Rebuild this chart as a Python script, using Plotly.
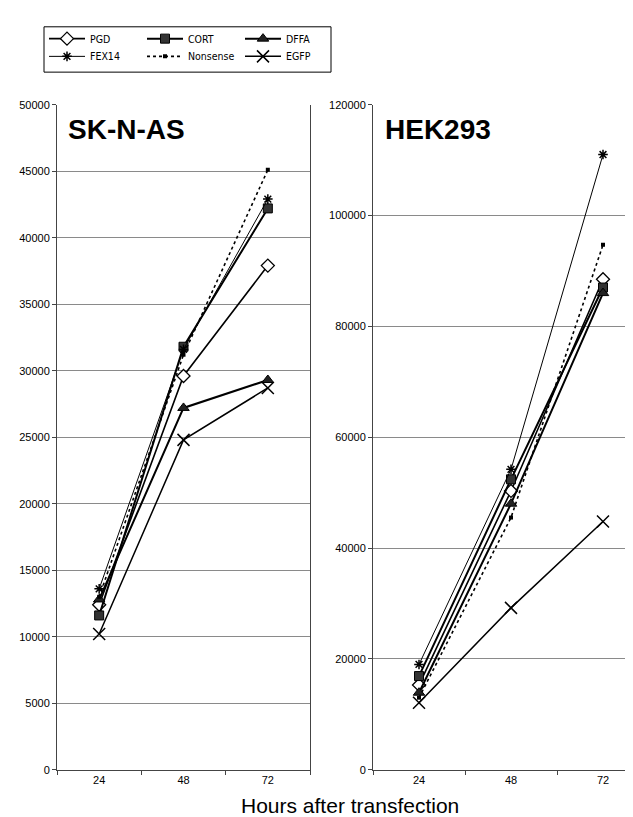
import plotly.graph_objects as go

hours = ["24", "48", "72"]
series = ["PGD", "CORT", "DFFA", "FEX14", "Nonsense", "EGFP"]

skn_pgd = [12400, 29600, 37900]
skn_cort = [11600, 31800, 42200]
skn_dffa = [12800, 27200, 29300]
skn_fex14 = [13600, 31600, 42900]
skn_nonsense = [13000, 31200, 45100]
skn_egfp = [10200, 24800, 28700]

hek_pgd = [15300, 50300, 88500]
hek_cort = [16900, 52400, 87000]
hek_dffa = [13900, 48000, 86000]
hek_fex14 = [19000, 54200, 111000]
hek_nonsense = [13000, 45500, 94700]
hek_egfp = [12100, 29200, 44800]

skn_ticks = list(range(0, 50001, 5000))
hek_ticks = list(range(0, 120001, 20000))

styles = {
    "PGD": dict(line=dict(color="black", width=1.6),
                marker=dict(symbol="diamond", size=10, color="white",
                            line=dict(color="black", width=1.3))),
    "CORT": dict(line=dict(color="black", width=2),
                 marker=dict(symbol="square", size=9, color="#333333",
                             line=dict(color="black", width=1))),
    "DFFA": dict(line=dict(color="black", width=2),
                 marker=dict(symbol="triangle-up", size=10, color="#222222",
                             line=dict(color="black", width=1))),
    "FEX14": dict(line=dict(color="black", width=1),
                  marker=dict(symbol="asterisk-open", size=8,
                              line=dict(color="black", width=1.5))),
    "Nonsense": dict(line=dict(color="black", width=1.6, dash="dot"),
                     marker=dict(symbol="square", size=4, color="black")),
    "EGFP": dict(line=dict(color="black", width=1.5),
                 marker=dict(symbol="x-thin-open", size=12,
                             line=dict(color="black", width=1.5))),
}

skn = [skn_pgd, skn_cort, skn_dffa, skn_fex14, skn_nonsense, skn_egfp]
hek = [hek_pgd, hek_cort, hek_dffa, hek_fex14, hek_nonsense, hek_egfp]

fig = go.Figure()
for i, name in enumerate(series):
    fig.add_trace(go.Scatter(
        x=hours, y=skn[i], name=name, mode="lines+markers",
        xaxis="x", yaxis="y", legend="legend" if i < 3 else "legend2",
        **styles[name]))
for i, name in enumerate(series):
    fig.add_trace(go.Scatter(
        x=hours, y=hek[i], name=name, mode="lines+markers",
        xaxis="x2", yaxis="y2", showlegend=False, **styles[name]))

W, H = 633, 817
tickfont = dict(family="Liberation Sans, Arial", size=11, color="black")
legfont = dict(family="Liberation Sans Narrow, DejaVu Sans Condensed, Liberation Sans, Arial",
               size=10.5, color="black")

xcommon = dict(type="category", categoryarray=hours, tickson="boundaries",
               ticks="outside", ticklen=4, tickcolor="#444", showgrid=False,
               showline=True, linecolor="#444", linewidth=1, tickfont=tickfont,
               zeroline=False)
ycommon = dict(ticks="outside", ticklen=4, tickcolor="#444", showgrid=True,
               gridcolor="#8a8a8a", gridwidth=1, showline=True, linecolor="#444",
               linewidth=1, tickfont=tickfont, zeroline=False)

ydom = [1 - 767 / H, 1 - 92 / H]

fig.update_layout(
    width=W, height=H,
    margin=dict(l=0, r=0, t=0, b=0),
    paper_bgcolor="white", plot_bgcolor="white",
    xaxis=dict(xcommon, domain=[49 / W, 302 / W], range=[-0.5, 2.5], anchor="y"),
    yaxis=dict(ycommon, domain=ydom, range=[0, 50000], tickvals=skn_ticks,
               ticktext=[str(v) for v in skn_ticks], mirror=True, anchor="x"),
    xaxis2=dict(xcommon, domain=[365 / W, 1.0], range=[-0.5, 2.413], anchor="y2"),
    yaxis2=dict(ycommon, domain=ydom, range=[0, 120000], tickvals=hek_ticks,
                ticktext=[str(v) for v in hek_ticks], anchor="x2"),
    legend=dict(orientation="h", x=36 / W, xanchor="left", y=1 - 25 / H,
                yanchor="middle", entrywidth=47, itemwidth=36,
                font=legfont, bgcolor="rgba(0,0,0,0)", borderwidth=0, tracegroupgap=0),
    legend2=dict(orientation="h", x=36 / W, xanchor="left", y=1 - 43 / H,
                 yanchor="middle", entrywidth=47, itemwidth=36,
                 font=legfont, bgcolor="rgba(0,0,0,0)", borderwidth=0, tracegroupgap=0),
    shapes=[dict(type="rect", xref="paper", yref="paper",
                 x0=36 / W, x1=323 / W, y0=1 - 59 / H, y1=1 - 13 / H,
                 line=dict(color="black", width=1), fillcolor="rgba(0,0,0,0)")],
    annotations=[
        dict(text="<b>SK-N-AS</b>", xref="x domain", yref="y domain", x=0.035, y=0.963,
             xanchor="left", yanchor="middle", showarrow=False,
             font=dict(family="Liberation Sans, Arial", size=28, color="black")),
        dict(text="<b>HEK293</b>", xref="x2 domain", yref="y2 domain", x=0.036, y=0.963,
             xanchor="left", yanchor="middle", showarrow=False,
             font=dict(family="Liberation Sans, Arial", size=28, color="black")),
        dict(text="Hours after transfection", xref="paper", yref="paper",
             x=342 / W, y=1 - 803 / H, xanchor="center", yanchor="middle",
             showarrow=False,
             font=dict(family="Liberation Sans, Arial", size=21, color="black")),
    ],
)

fig.write_html("out.html")
